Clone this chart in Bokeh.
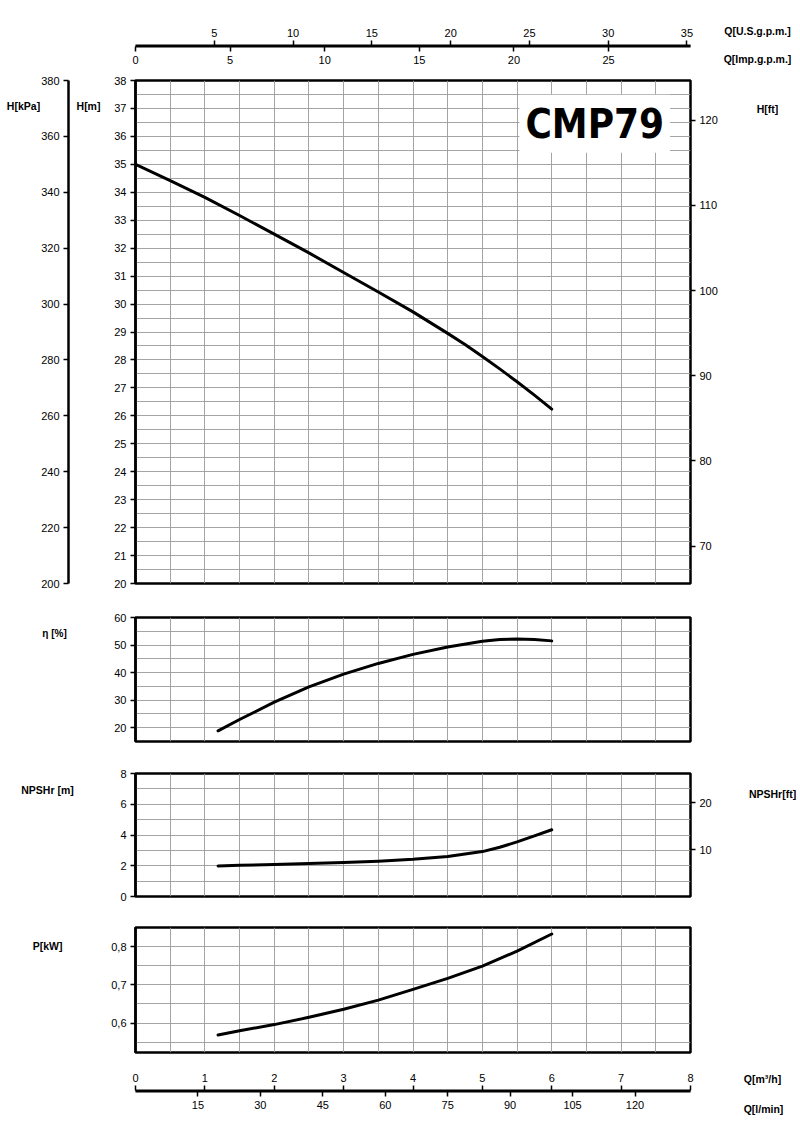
from bokeh.plotting import figure
from bokeh.models import Range1d, LinearAxis, FixedTicker, Label, CustomJSTickFormatter
from bokeh.layouts import column
from bokeh.embed import file_html
from bokeh.resources import INLINE

# ---------------- data ----------------
q_head = [0, 0.5, 1, 1.5, 2, 2.5, 3, 3.5, 4, 4.5, 4.75, 5, 5.25, 5.5, 5.75, 6]
head_m = [35.0, 34.42, 33.82, 33.17, 32.5, 31.83, 31.13, 30.43, 29.72, 28.95, 28.55,
          28.12, 27.68, 27.22, 26.74, 26.24]

q_eta = [1.19, 1.5, 2, 2.5, 3, 3.5, 4, 4.5, 5, 5.25, 5.5, 5.75, 6]
eta_pct = [18.8, 22.9, 29.2, 34.8, 39.4, 43.3, 46.6, 49.3, 51.4, 52.0, 52.2, 52.0, 51.5]

q_npsh = [1.19, 1.5, 2, 2.5, 3, 3.5, 4, 4.5, 5, 5.25, 5.5, 5.75, 6]
npsh_m = [1.99, 2.03, 2.08, 2.14, 2.21, 2.3, 2.42, 2.6, 2.92, 3.2, 3.55, 3.94, 4.34]

q_power = [1.19, 1.5, 2, 2.5, 3, 3.5, 4, 4.5, 5, 5.5, 6]
power_kw = [0.569, 0.58, 0.596, 0.615, 0.636, 0.66, 0.688, 0.717, 0.749, 0.788, 0.833]

q_m3h_ticks = [0, 1, 2, 3, 4, 5, 6, 7, 8]
q_lmin_ticks = [15, 30, 45, 60, 75, 90, 105, 120]
q_usgpm_ticks = [5, 10, 15, 20, 25, 30, 35]
q_impgpm_ticks = [0, 5, 10, 15, 20, 25]
head_m_ticks = list(range(20, 39))
head_kpa_ticks = list(range(200, 381, 20))
head_ft_ticks = [70, 80, 90, 100, 110, 120]
eta_ticks = [20, 30, 40, 50, 60]
npsh_m_ticks = [0, 2, 4, 6, 8]
npsh_ft_ticks = [10, 20]
power_ticks = [0.6, 0.7, 0.8]

title_text = "CMP79"

# unit conversions
USGPM_PER_M3H = 4.402868
IMPGPM_PER_M3H = 3.666154
LMIN_PER_M3H = 1000.0 / 60.0
M_PER_FT = 0.3048
KPA_PER_M = 10.0

# ---------------- styling helpers ----------------
FONT = "Liberation Sans"
FW = 555
LEFT = 135
RIGHT = 110
GRID_COLOR = "#9a9a9a"
XGRID = [0.5 * i for i in range(1, 16)]
CURVE = dict(line_color="black", line_width=3, line_join="round", line_cap="round")


def style_axis(ax, line=True):
    ax.axis_line_color = "black" if line else None
    ax.axis_line_width = 2.5
    ax.major_tick_line_color = "black"
    ax.major_tick_line_width = 1.5
    ax.major_tick_out = 5
    ax.major_tick_in = 0
    ax.minor_tick_line_color = None
    ax.major_label_text_font = FONT
    ax.major_label_text_font_size = "11px"
    ax.major_label_text_color = "black"
    ax.major_label_standoff = 4


def panel(frame_h, top, bottom, y_rng):
    p = figure(frame_width=FW, frame_height=frame_h, min_border_left=LEFT,
               min_border_right=RIGHT, min_border_top=top, min_border_bottom=bottom,
               x_range=Range1d(0, 8), y_range=y_rng, x_axis_location=None,
               output_backend="svg", toolbar_location=None)
    p.outline_line_color = "black"
    p.outline_line_width = 2.5
    p.xgrid.ticker = FixedTicker(ticks=XGRID)
    for g in (p.xgrid, p.ygrid):
        g.grid_line_color = GRID_COLOR
        g.grid_line_width = 0.9
    style_axis(p.yaxis[0])
    p.background_fill_color = "white"
    p.border_fill_color = "white"
    return p


def label(p, side, x, y, text, size="10.5px", bold=True, align="center"):
    """Text placed in canvas pixels of figure p, attached to a side panel (not clipped)."""
    p.add_layout(Label(x=x, y=y, x_units="canvas", y_units="canvas", text=text,
                       text_font=FONT, text_font_size=size,
                       text_font_style="bold" if bold else "normal",
                       text_align=align, text_baseline="middle", text_color="black"), side)


# ---------------- top flow axes ----------------
pa = figure(frame_width=FW, frame_height=1, min_border_left=LEFT, min_border_right=RIGHT,
            min_border_top=45, min_border_bottom=22, x_range=Range1d(0, 8),
            y_range=Range1d(0, 1), x_axis_location=None, y_axis_location=None,
            output_backend="svg", toolbar_location=None)
pa.outline_line_color = None
pa.grid.visible = False
pa.extra_x_ranges = {"us": Range1d(0, 8 * USGPM_PER_M3H), "imp": Range1d(0, 8 * IMPGPM_PER_M3H)}
ax_us = LinearAxis(x_range_name="us", ticker=FixedTicker(ticks=q_usgpm_ticks))
style_axis(ax_us)
ax_us.axis_line_width = 2
pa.add_layout(ax_us, "above")
ax_imp = LinearAxis(x_range_name="imp", ticker=FixedTicker(ticks=q_impgpm_ticks))
style_axis(ax_imp)
ax_imp.axis_line_width = 2
pa.add_layout(ax_imp, "below")
label(pa, "right", 757, 30, "Q[U.S.g.p.m.]")
label(pa, "left", 757, 58, "Q[Imp.g.p.m.]")

# ---------------- head panel ----------------
ph = panel(503, 12, 17, Range1d(20, 38))
ph.yaxis[0].ticker = FixedTicker(ticks=head_m_ticks)
ph.yaxis[0].axis_label = " "
ph.yaxis[0].axis_label_standoff = 25
ph.ygrid.ticker = FixedTicker(ticks=[20 + 0.5 * i for i in range(1, 36)])
ph.extra_y_ranges = {"kpa": Range1d(20 * KPA_PER_M, 38 * KPA_PER_M),
                     "ft": Range1d(20 / M_PER_FT, 38 / M_PER_FT)}
ax_kpa = LinearAxis(y_range_name="kpa", ticker=FixedTicker(ticks=head_kpa_ticks))
style_axis(ax_kpa)
ph.add_layout(ax_kpa, "left")
ax_ft = LinearAxis(y_range_name="ft", ticker=FixedTicker(ticks=head_ft_ticks))
style_axis(ax_ft)
ax_ft.axis_line_color = None
ph.add_layout(ax_ft, "right")
ph.line(q_head, head_m, **CURVE)
label(ph, "left", 23, 37, "H[kPa]")
label(ph, "right", 88, 37, "H[m]")
label(ph, "right", 767, 40, "H[ft]")
ph.add_layout(Label(x=6.62, y=36.45, text=title_text, text_font="DejaVu Sans Condensed",
                    text_font_size="40px", text_font_style="bold", text_align="center",
                    text_baseline="middle", text_color="black", background_fill_color="white",
                    padding=6))

# ---------------- efficiency panel ----------------
pe = panel(124, 17, 16, Range1d(60 - 124 / 2.75, 60))
pe.yaxis[0].ticker = FixedTicker(ticks=eta_ticks)
pe.ygrid.ticker = FixedTicker(ticks=[20, 25, 30, 35, 40, 45, 50, 55])
pe.line(q_eta, eta_pct, **CURVE)
label(pe, "left", 54, 33, "η [%]", size="10px")

# ---------------- NPSH panel ----------------
pn = panel(123, 16, 15, Range1d(0, 8))
pn.yaxis[0].ticker = FixedTicker(ticks=npsh_m_ticks)
pn.ygrid.ticker = FixedTicker(ticks=[1, 2, 3, 4, 5, 6, 7])
pn.extra_y_ranges = {"ft": Range1d(0, 8 / M_PER_FT)}
ax_nft = LinearAxis(y_range_name="ft", ticker=FixedTicker(ticks=npsh_ft_ticks))
style_axis(ax_nft)
ax_nft.axis_line_color = None
pn.add_layout(ax_nft, "right")
pn.line(q_npsh, npsh_m, **CURVE)
label(pn, "left", 47, 32, "NPSHr [m]")
label(pn, "right", 772, 36, "NPSHr[ft]")

# ---------------- power panel ----------------
pp = panel(125, 16, 6, Range1d(0.523, 0.85))
pp.yaxis[0].ticker = FixedTicker(ticks=power_ticks)
pp.yaxis[0].formatter = CustomJSTickFormatter(code="return tick.toFixed(1).replace('.', ',');")
pp.ygrid.ticker = FixedTicker(ticks=[0.55, 0.6, 0.65, 0.7, 0.75, 0.8])
pp.line(q_power, power_kw, **CURVE)
label(pp, "left", 47, 34, "P[kW]")

# ---------------- bottom flow axes ----------------
pf = figure(frame_width=FW, frame_height=1, min_border_left=LEFT, min_border_right=RIGHT,
            min_border_top=32, min_border_bottom=26, x_range=Range1d(0, 8),
            y_range=Range1d(0, 1), x_axis_location=None, y_axis_location=None,
            output_backend="svg", toolbar_location=None)
pf.outline_line_color = None
pf.grid.visible = False
pf.extra_x_ranges = {"lmin": Range1d(0, 8 * LMIN_PER_M3H)}
ax_m3 = LinearAxis(ticker=FixedTicker(ticks=q_m3h_ticks))
style_axis(ax_m3)
ax_m3.axis_line_width = 2
pf.add_layout(ax_m3, "above")
ax_l = LinearAxis(x_range_name="lmin", ticker=FixedTicker(ticks=q_lmin_ticks))
style_axis(ax_l)
ax_l.axis_line_width = 2
pf.add_layout(ax_l, "below")
label(pf, "right", 762, 20, "Q[m³/h]")
label(pf, "left", 763, 50, "Q[l/min]")

layout = column(pa, ph, pe, pn, pp, pf, spacing=0)
open("out.html", "w").write(file_html(layout, INLINE))
